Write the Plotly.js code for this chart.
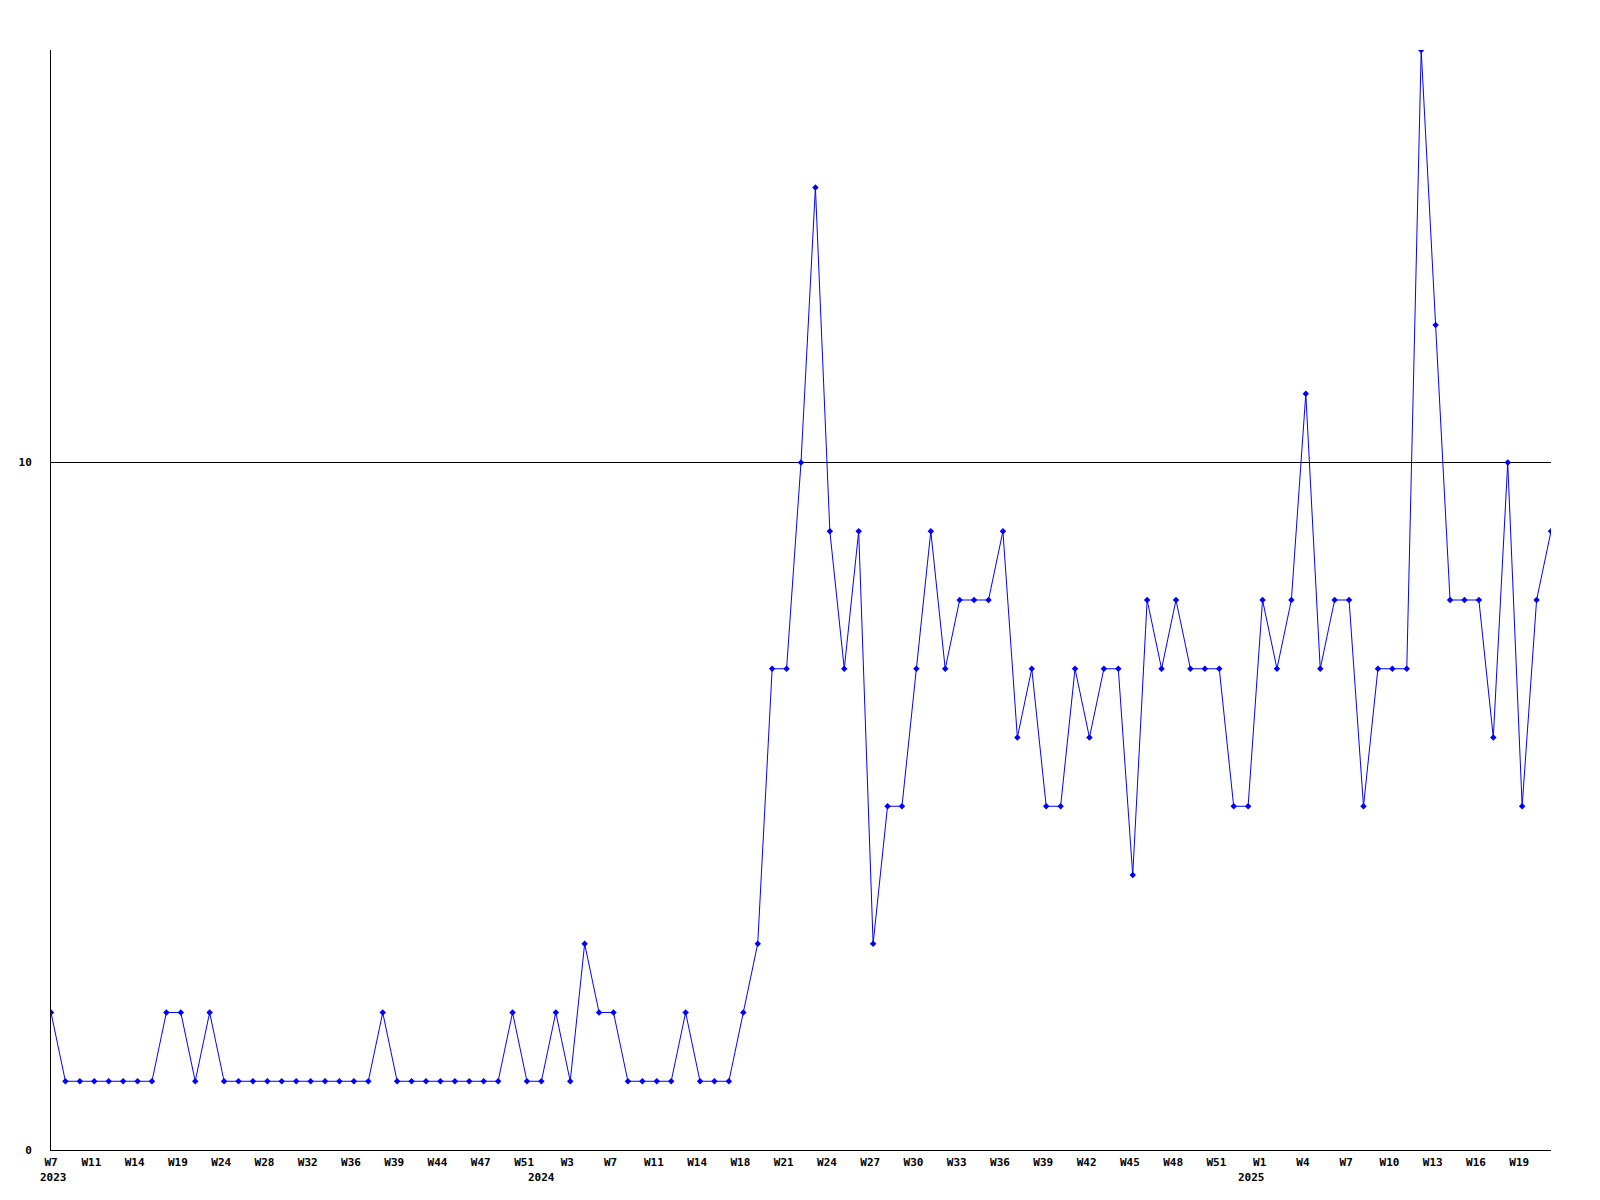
<!DOCTYPE html>
<html>
<head>
<meta charset="utf-8">
<script src="https://cdn.plot.ly/plotly-3.0.1.min.js"></script>
<style>
  html, body { margin: 0; padding: 0; background: #ffffff; }
  #chart { width: 1600px; height: 1200px; }
</style>
</head>
<body>
<div id="chart"></div>
<script>
// ---- data ----
const values = [
  2, 1, 1, 1, 1, 1, 1, 1, 2, 2,
  1, 2, 1, 1, 1, 1, 1, 1, 1, 1,
  1, 1, 1, 2, 1, 1, 1, 1, 1, 1,
  1, 1, 2, 1, 1, 2, 1, 3, 2, 2,
  1, 1, 1, 1, 2, 1, 1, 1, 2, 3,
  7, 7, 10, 14, 9, 7, 9, 3, 5, 5,
  7, 9, 7, 8, 8, 8, 9, 6, 7, 5,
  5, 7, 6, 7, 7, 4, 8, 7, 8, 7,
  7, 7, 5, 5, 8, 7, 8, 11, 7, 8,
  8, 5, 7, 7, 7, 16, 12, 8, 8, 8,
  6, 10, 5, 8, 9
];

const weekLabels = ['W7','W11','W14','W19','W24','W28','W32','W36','W39','W44','W47','W51',
  'W3','W7','W11','W14','W18','W21','W24','W27','W30','W33','W36','W39','W42','W45','W48','W51',
  'W1','W4','W7','W10','W13','W16','W19'];
const weekLabelAt = [0,3,6,9,12,15,18,21,24,27,30,33,
  36,39,42,45,48,51,54,57,60,63,66,69,72,75,78,81,
  84,87,90,93,96,99,102];

const yearLabels = ['2023','2024','2025'];
const yearLabelAt = [0.2, 34, 83.2];

const yTickVals = [0, 10];
const yTickText = ['0', '10'];

// ---- chart ----
const xIdx = values.map((_, i) => i);
const fontFam = '"DejaVu Sans Mono", "Liberation Mono", monospace';

const trace = {
  x: xIdx,
  y: values,
  type: 'scatter',
  mode: 'lines+markers',
  line: { color: '#0000ff', width: 1 },
  marker: { color: '#0000ff', size: 5, symbol: 'diamond' },
  hoverinfo: 'skip'
};

const annotations = yearLabels.map((t, k) => ({
  text: t,
  x: yearLabelAt[k],
  xref: 'x',
  y: 0,
  yref: 'paper',
  yanchor: 'top',
  xanchor: 'center',
  yshift: -19,
  showarrow: false,
  font: { family: fontFam, size: 11, color: '#000000', weight: 'bold' }
}));

const layout = {
  width: 1600,
  height: 1200,
  paper_bgcolor: '#ffffff',
  plot_bgcolor: '#ffffff',
  showlegend: false,
  margin: { l: 51, r: 49, t: 50, b: 50, pad: 0 },
  xaxis: {
    range: [0, values.length - 1],
    tickvals: weekLabelAt.map(i => Math.max(0, i - 0.2)),
    ticktext: weekLabels,
    showgrid: false,
    zeroline: false,
    showline: true,
    linecolor: '#000000',
    linewidth: 1,
    ticks: '',
    ticklabelstandoff: 2,
    tickfont: { family: fontFam, size: 11, color: '#000000', weight: 'bold' },
    fixedrange: true
  },
  yaxis: {
    range: [0, 16],
    tickvals: yTickVals,
    ticktext: yTickText,
    showgrid: true,
    gridcolor: '#000000',
    gridwidth: 1,
    zeroline: false,
    showline: true,
    linecolor: '#000000',
    linewidth: 1,
    ticks: '',
    ticklabelstandoff: 16,
    tickfont: { family: fontFam, size: 11, color: '#000000', weight: 'bold' },
    fixedrange: true
  },
  annotations: annotations
};

Plotly.newPlot('chart', [trace], layout, { displayModeBar: false, staticPlot: true });
</script>
</body>
</html>
